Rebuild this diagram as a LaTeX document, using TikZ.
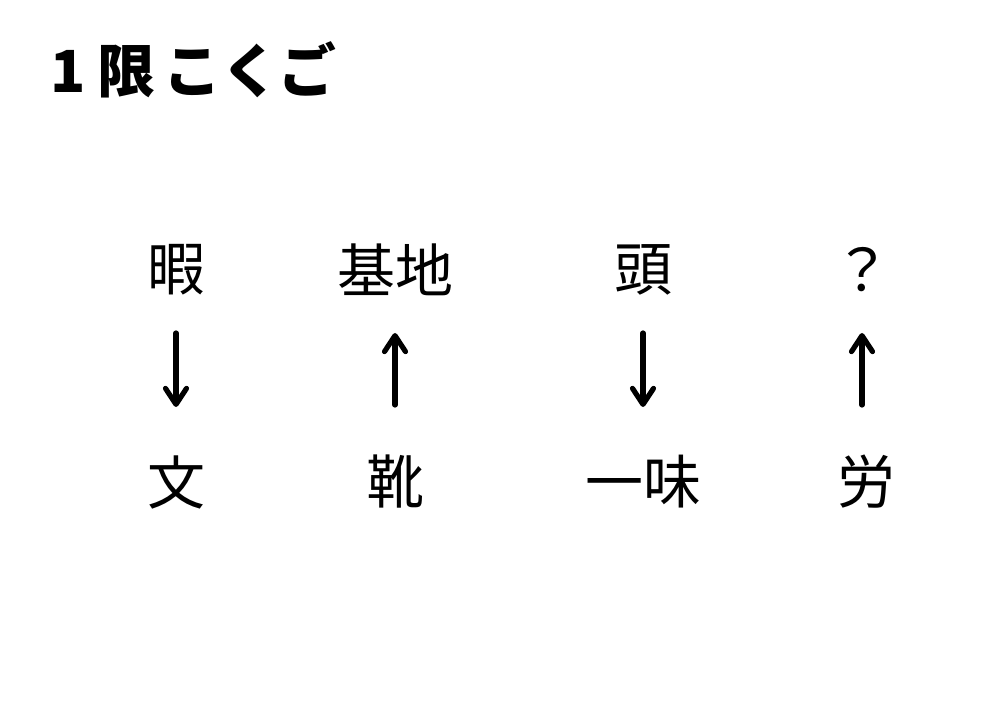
\documentclass[tikz,border=0pt]{standalone}
\usepackage{fontspec}
\newfontfamily\jpfont{Noto Sans CJK JP}
\newfontfamily\jpbold{Noto Sans CJK JP Black}
\usetikzlibrary{arrows.meta}
\begin{document}
\begin{tikzpicture}[x=0.5pt,y=-0.5pt,
  word/.style={inner sep=0pt,font=\jpfont\fontsize{29pt}{29pt}\selectfont},
  ttl/.style={inner sep=0pt,anchor=base west,font=\jpbold\fontsize{29pt}{29pt}\selectfont},
  arr/.style={line width=2.6pt,line cap=round,-{Straight Barb[length=8pt,width=10.5pt,line width=2.6pt,round]}},
  dn/.style={arr,shorten <=31.5pt,shorten >=37.5pt},
  up/.style={arr,shorten <=38.5pt,shorten >=31.5pt}]
\useasboundingbox (0,0) rectangle (1000,705);
\node[ttl] (title) at (50,93) {1\hspace{0.2em}限\hspace{0.15em}こく\hspace{-0.02em}ご};
\node[word] (t1) at (176,270) {暇};
\node[word] (t2) at (395,270) {基地};
\node[word] (t3) at (643,270) {頭};
\node[word] (t4) at (862,270) {？};
\node[word] (b1) at (176,482) {文};
\node[word] (b2) at (395,482) {靴};
\node[word] (b3) at (643,482) {一味};
\node[word] (b4) at (866,482) {労};
\draw[dn] (t1.center) -- (b1.center);
\draw[up] (b2.center) -- (t2.center);
\draw[dn] (t3.center) -- (b3.center);
\draw[up] (b4.center -| t4.center) -- (t4.center);
\end{tikzpicture}
\end{document}
